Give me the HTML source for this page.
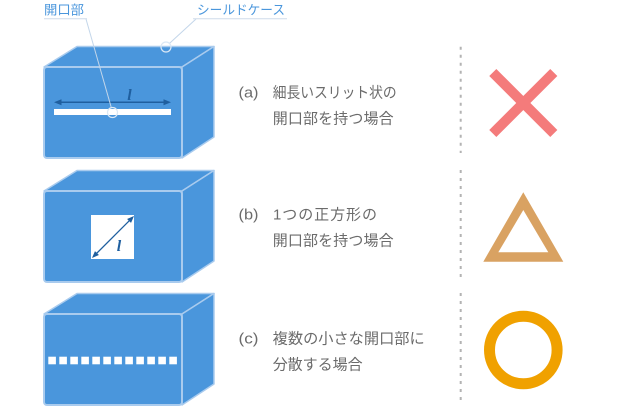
<!DOCTYPE html>
<html>
<head>
<meta charset="utf-8">
<style>
  html, body { margin: 0; padding: 0; background: #ffffff; }
  body { width: 640px; height: 410px; overflow: hidden; }
  svg { display: block; }
  .jp { font-family: "Liberation Sans", "Noto Sans CJK JP", sans-serif; }
</style>
</head>
<body>
<svg width="640" height="410" viewBox="0 0 640 410" xmlns="http://www.w3.org/2000/svg">
  <defs>
    <g id="box">
      <!-- top face -->
      <polygon points="44,67 77,46.5 214,46.5 182,67" fill="#4a96dc" stroke="#a9cbee" stroke-width="1.5" stroke-linejoin="round"/>
      <!-- right face -->
      <polygon points="182,67 214,46.5 214,137 182,158" fill="#4a96dc" stroke="#a9cbee" stroke-width="1.5" stroke-linejoin="round"/>
      <!-- front face -->
      <rect x="44" y="67" width="138" height="91" rx="3" ry="3" fill="#4a96dc" stroke="#a9cbee" stroke-width="2"/>
    </g>
  </defs>

  <!-- Box A -->
  <use href="#box" x="0" y="0"/>
  <rect x="54" y="109" width="117" height="6" fill="#ffffff"/>
  <line x1="58" y1="102.3" x2="167" y2="102.3" stroke="#1f5f9f" stroke-width="1.5"/>
  <polygon points="54,102.3 61.5,99.3 61.5,105.3" fill="#1f5f9f"/>
  <polygon points="171,102.3 163.5,99.3 163.5,105.3" fill="#1f5f9f"/>
  <text x="129.5" y="100" font-family="'Liberation Serif', serif" font-style="italic" font-weight="bold" font-size="16" fill="#1f5f9f" text-anchor="middle">l</text>

  <!-- leader: 開口部 -->
  <line x1="86" y1="19" x2="111.3" y2="107.6" stroke="#c3d6ea" stroke-width="1"/>
  <circle cx="112.5" cy="112.5" r="5" fill="none" stroke="#dbe8f5" stroke-width="1.2"/>
  <!-- leader: シールドケース -->
  <line x1="196" y1="19" x2="169.5" y2="43.4" stroke="#c3d6ea" stroke-width="1"/>
  <circle cx="166" cy="47" r="5" fill="none" stroke="#dbe8f5" stroke-width="1.2"/>

  <!-- labels -->
  <text class="jp" x="44" y="14.5" font-size="13" fill="#4a96dc" textLength="40" lengthAdjust="spacingAndGlyphs">開口部</text>
  <line x1="44" y1="18.7" x2="87" y2="18.7" stroke="#cfdcea" stroke-width="1"/>
  <text class="jp" x="197" y="14.5" font-size="13" fill="#4a96dc" textLength="88" lengthAdjust="spacingAndGlyphs">シールドケース</text>
  <line x1="193" y1="18.7" x2="287" y2="18.7" stroke="#cfdcea" stroke-width="1"/>

  <!-- Box B -->
  <use href="#box" x="0" y="124"/>
  <rect x="91" y="215" width="43" height="44" fill="#ffffff"/>
  <line x1="95" y1="255" x2="131" y2="219" stroke="#1f5f9f" stroke-width="1.3"/>
  <polygon points="134,216 131.03,222.93 127.07,218.97" fill="#1f5f9f"/>
  <polygon points="92,258 98.93,255.03 94.97,251.07" fill="#1f5f9f"/>
  <text x="119" y="251" font-family="'Liberation Serif', serif" font-style="italic" font-weight="bold" font-size="16" fill="#1f5f9f" text-anchor="middle">l</text>

  <!-- Box C -->
  <use href="#box" x="0" y="247"/>
  <g fill="#ffffff">
    <rect x="48.3" y="356.7" width="7.6" height="7.6"/>
    <rect x="59.3" y="356.7" width="7.6" height="7.6"/>
    <rect x="70.3" y="356.7" width="7.6" height="7.6"/>
    <rect x="81.3" y="356.7" width="7.6" height="7.6"/>
    <rect x="92.3" y="356.7" width="7.6" height="7.6"/>
    <rect x="103.3" y="356.7" width="7.6" height="7.6"/>
    <rect x="114.3" y="356.7" width="7.6" height="7.6"/>
    <rect x="125.3" y="356.7" width="7.6" height="7.6"/>
    <rect x="136.3" y="356.7" width="7.6" height="7.6"/>
    <rect x="147.3" y="356.7" width="7.6" height="7.6"/>
    <rect x="158.3" y="356.7" width="7.6" height="7.6"/>
    <rect x="169.3" y="356.7" width="7.6" height="7.6"/>
  </g>

  <!-- Text lines -->
  <g class="jp" font-size="15" fill="#6b6b6b">
    <text x="238.5" y="97.4" textLength="20" lengthAdjust="spacingAndGlyphs" font-family="'Liberation Sans', sans-serif">(a)</text>
    <text x="272.7" y="97.4" textLength="124" lengthAdjust="spacingAndGlyphs">細長いスリット状の</text>
    <text x="272.7" y="123.4" textLength="121" lengthAdjust="spacing">開口部を持つ場合</text>

    <text x="238.5" y="219.7" textLength="20" lengthAdjust="spacingAndGlyphs" font-family="'Liberation Sans', sans-serif">(b)</text>
    <text x="273" y="219.7" textLength="104" lengthAdjust="spacing">1つの正方形の</text>
    <text x="272.7" y="245.7" textLength="121" lengthAdjust="spacing">開口部を持つ場合</text>

    <text x="238.5" y="343.4" textLength="20" lengthAdjust="spacingAndGlyphs" font-family="'Liberation Sans', sans-serif">(c)</text>
    <text x="272.7" y="343.4" textLength="152" lengthAdjust="spacingAndGlyphs">複数の小さな開口部に</text>
    <text x="272.7" y="369.7" textLength="90" lengthAdjust="spacingAndGlyphs">分散する場合</text>
  </g>

  <!-- Dotted separator -->
  <g stroke="#b3b3b3" stroke-width="2" stroke-dasharray="3 5">
    <line x1="460.7" y1="46.7" x2="460.7" y2="153"/>
    <line x1="460.7" y1="170" x2="460.7" y2="277"/>
    <line x1="460.7" y1="293" x2="460.7" y2="402"/>
  </g>

  <!-- X mark -->
  <g stroke="#f47b7b" stroke-width="10" stroke-linecap="butt">
    <line x1="492.8" y1="72.5" x2="553.8" y2="133.5"/>
    <line x1="553.8" y1="72.5" x2="492.8" y2="133.5"/>
  </g>

  <!-- Triangle -->
  <path d="M523.3,192.3 L563.3,261.7 L483.3,261.7 Z M523.3,210 L498.3,252.3 L548.3,252.3 Z" fill="#d9a262" fill-rule="evenodd"/>

  <!-- Circle -->
  <circle cx="523.3" cy="350" r="33.8" fill="none" stroke="#f0a100" stroke-width="11"/>
</svg>
</body>
</html>
